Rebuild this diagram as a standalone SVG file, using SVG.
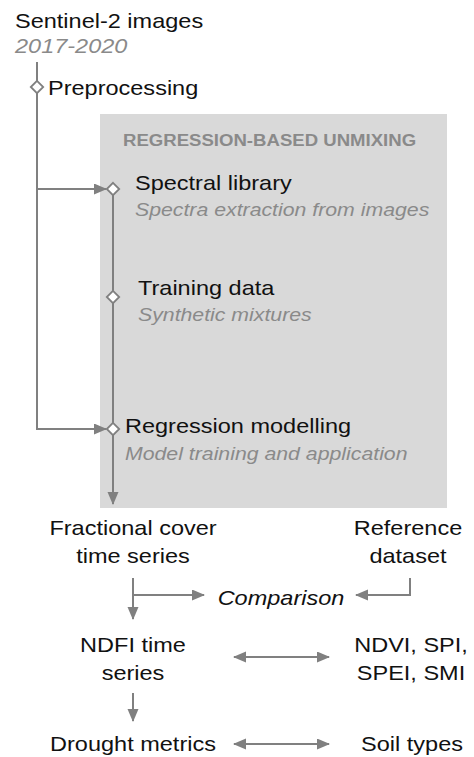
<svg xmlns="http://www.w3.org/2000/svg" width="474" height="757" viewBox="0 0 474 757">
  <style>
    text { font-family: "Liberation Sans", Arial, sans-serif; }
    .t { font-size: 21px; fill: #111; }
    .sub { font-size: 19px; fill: #8a8a8a; font-style: italic; }
    .hdr { font-size: 16.6px; fill: #8a8a8a; font-weight: bold; }
    .mid { text-anchor: middle; }
    .ln { fill: none; stroke: #808080; stroke-width: 2; }
    .dia { fill: #fff; stroke: #808080; stroke-width: 1.8; }
  </style>
  <defs>
    <marker id="ah" markerUnits="userSpaceOnUse" markerWidth="14" markerHeight="12" refX="12" refY="5.5" orient="auto-start-reverse">
      <path d="M0,0 L13,5.5 L0,11 z" fill="#808080"/>
    </marker>
    <path id="diamond" d="M0,-6.2 L6.2,0 L0,6.2 L-6.2,0 z"/>
  </defs>

  <!-- unmixing panel -->
  <rect id="panel" x="100" y="114" width="347" height="394" fill="#d9d9d9"/>

  <g id="connectors">
    <path class="ln" d="M37,62 V429 H106" marker-end="url(#ah)"/>
    <path class="ln" d="M37,189 H106" marker-end="url(#ah)"/>
    <path class="ln" d="M113,189 V504" marker-end="url(#ah)"/>
    <path class="ln" d="M133,578 V619" marker-end="url(#ah)"/>
    <path class="ln" d="M133,595 H204" marker-end="url(#ah)"/>
    <path class="ln" d="M410,578 V595 H356" marker-end="url(#ah)"/>
    <path class="ln" d="M234,657 H329" marker-start="url(#ah)" marker-end="url(#ah)"/>
    <path class="ln" d="M133,693 V721" marker-end="url(#ah)"/>
    <path class="ln" d="M234,744 H329" marker-start="url(#ah)" marker-end="url(#ah)"/>
  </g>

  <g id="sentinel">
    <text class="t" transform="translate(15 28) scale(1.12 1)">Sentinel-2 images</text>
    <text class="sub" style="font-size:21px" transform="translate(15 53) scale(1.12 1)">2017-2020</text>
  </g>

  <g id="preprocessing">
    <use href="#diamond" class="dia" x="37" y="87"/>
    <text class="t" transform="translate(48 95) scale(1.12 1)">Preprocessing</text>
  </g>

  <g id="unmixing-title">
    <text class="hdr" transform="translate(123 146) scale(1.12 1)">REGRESSION-BASED UNMIXING</text>
  </g>

  <g id="spectral-library">
    <use href="#diamond" class="dia" x="113" y="189"/>
    <text class="t" transform="translate(135 190) scale(1.12 1)">Spectral library</text>
    <text class="sub" transform="translate(135 216) scale(1.12 1)">Spectra extraction from images</text>
  </g>

  <g id="training-data">
    <use href="#diamond" class="dia" x="113" y="297"/>
    <text class="t" transform="translate(138 295) scale(1.12 1)">Training data</text>
    <text class="sub" transform="translate(138 321) scale(1.12 1)">Synthetic mixtures</text>
  </g>

  <g id="regression-modelling">
    <use href="#diamond" class="dia" x="113" y="429"/>
    <text class="t" transform="translate(125 433) scale(1.12 1)">Regression modelling</text>
    <text class="sub" transform="translate(125 460) scale(1.12 1)">Model training and application</text>
  </g>

  <g id="fractional-cover">
    <text class="t mid" transform="translate(133 535) scale(1.12 1)">Fractional cover</text>
    <text class="t mid" transform="translate(133 563) scale(1.12 1)">time series</text>
  </g>

  <g id="reference-dataset">
    <text class="t mid" transform="translate(408 535) scale(1.12 1)">Reference</text>
    <text class="t mid" transform="translate(408 563) scale(1.12 1)">dataset</text>
  </g>

  <g id="comparison">
    <text class="t mid" style="font-style:italic" transform="translate(281 605) scale(1.12 1)">Comparison</text>
  </g>

  <g id="ndfi">
    <text class="t mid" transform="translate(133 652) scale(1.12 1)">NDFI time</text>
    <text class="t mid" transform="translate(133 680) scale(1.12 1)">series</text>
  </g>

  <g id="indices">
    <text class="t mid" transform="translate(411 652) scale(1.12 1)">NDVI, SPI,</text>
    <text class="t mid" transform="translate(411 680) scale(1.12 1)">SPEI, SMI</text>
  </g>

  <g id="drought-metrics">
    <text class="t mid" transform="translate(133 751) scale(1.12 1)">Drought metrics</text>
  </g>

  <g id="soil-types">
    <text class="t mid" transform="translate(412 751) scale(1.12 1)">Soil types</text>
  </g>
</svg>
